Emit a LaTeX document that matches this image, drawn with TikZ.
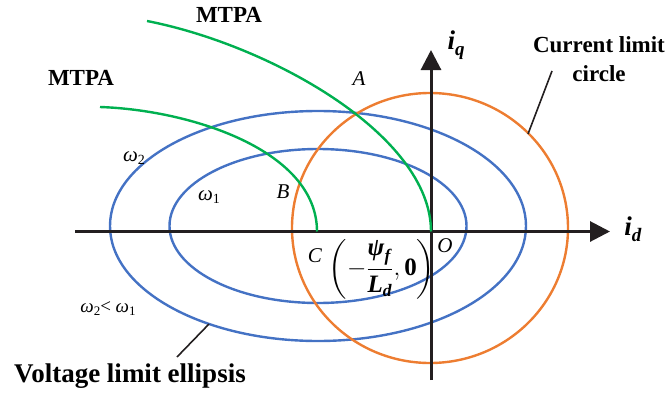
\documentclass[tikz,border=0pt]{standalone}
\usepackage{amsmath}
\usepackage{fontspec}
\setmainfont{Liberation Serif}
\usetikzlibrary{arrows.meta}
\definecolor{cblue}{HTML}{4472C4}
\definecolor{corange}{HTML}{ED7D31}
\definecolor{cgreen}{HTML}{00B050}
\definecolor{caxis}{HTML}{231F20}
\newcommand{\bi}[1]{\textbf{\textit{#1}}}
\newcommand{\omlab}[2]{\textit{ω}\raisebox{-0.35ex}{\fontsize{#2}{#2}\selectfont #1}}
\begin{document}
\begin{tikzpicture}[x=1pt,y=-1pt,
  axisline/.style={draw=caxis,line width=3pt,-{Triangle[length=20pt,width=20pt]}},
  ellipseline/.style={draw=cblue,line width=2.4pt},
  circleline/.style={draw=corange,line width=2.4pt},
  mtpaline/.style={draw=cgreen,line width=2.4pt},
  leader/.style={draw=caxis,line width=1.6pt},
  boldlab/.style={inner sep=0pt,font=\fontsize{23}{28.5}\selectfont\bfseries},
  itlab/.style={inner sep=0pt,font=\fontsize{21}{24}\selectfont\itshape},
  axlab/.style={inner sep=0pt,font=\fontsize{27}{30}\selectfont}]
\useasboundingbox (0,0) rectangle (670,399);
% key points
\coordinate (O) at (431,231.5);
\coordinate (C) at (317,231.5);
\coordinate (xl) at (75,231.5);
\coordinate (xr) at (610,231.5);
\coordinate (yb) at (431,380);
\coordinate (yt) at (431,50);
% voltage limit ellipses
\draw[ellipseline] (318,226) ellipse [x radius=208pt, y radius=115pt];
\draw[ellipseline] (318,226) ellipse [x radius=148.5pt, y radius=77pt];
% current limit circle
\draw[circleline] (430,228) ellipse [x radius=138pt, y radius=135pt];
% axes
\draw[axisline] (xl) -- (xr);
\draw[axisline] (yb) -- (yt);
% MTPA curves
\coordinate (m1s) at (147,21);
\coordinate (m2s) at (100,107);
\draw[mtpaline] (m1s) .. controls (270,45) and (431,135) .. (O);
\draw[mtpaline] (m2s) .. controls (190,110) and (317,150) .. (C);
% labels
\node[boldlab] (mtpaA) at (229,15) {MTPA};
\node[boldlab] (mtpaB) at (81,78) {MTPA};
\node[boldlab,align=center] (cur) at (599,59) {Current limit\\circle};
\node[boldlab,font=\fontsize{27}{30}\selectfont\bfseries] (volt) at (130,376) {Voltage limit ellipsis};
\node[axlab] (iq) at (456,45) {\bi{i}\raisebox{-6pt}{\fontsize{19}{19}\selectfont\bi{q}}};
\node[axlab] (id) at (633,229) {\bi{i}\raisebox{-6pt}{\fontsize{19}{19}\selectfont\bi{d}}};
\node[itlab] (A) at (359,79) {A};
\node[itlab] (B) at (283,192) {B};
\node[itlab] (Clab) at (315,256) {C};
\node[itlab] (Olab) at (445,246) {O};
\node[inner sep=0pt,font=\fontsize{21}{24}\selectfont] (w2) at (134,158) {\omlab{2}{14}};
\node[inner sep=0pt,font=\fontsize{21}{24}\selectfont] (w1) at (209,197) {\omlab{1}{14}};
\node[inner sep=0pt,font=\fontsize{19}{21}\selectfont] (w21) at (108,309) {\omlab{2}{13}< \omlab{1}{13}};
\node[inner sep=0pt,font=\fontsize{25}{28}\selectfont] (coord) at (382,269)
  {$\left(-\dfrac{\text{\bi{ψ}}_{\text{\bi{f}}}}{\text{\bi{L}}_{\text{\bi{d}}}},\text{\bfseries 0}\right)$};
% leader lines
\coordinate (lc1) at (552,71);
\coordinate (lc2) at (528,134);
\coordinate (lv1) at (209,324);
\coordinate (lv2) at (177,357);
\draw[leader] (lc1) -- (lc2);
\draw[leader] (lv1) -- (lv2);
\end{tikzpicture}
\end{document}
